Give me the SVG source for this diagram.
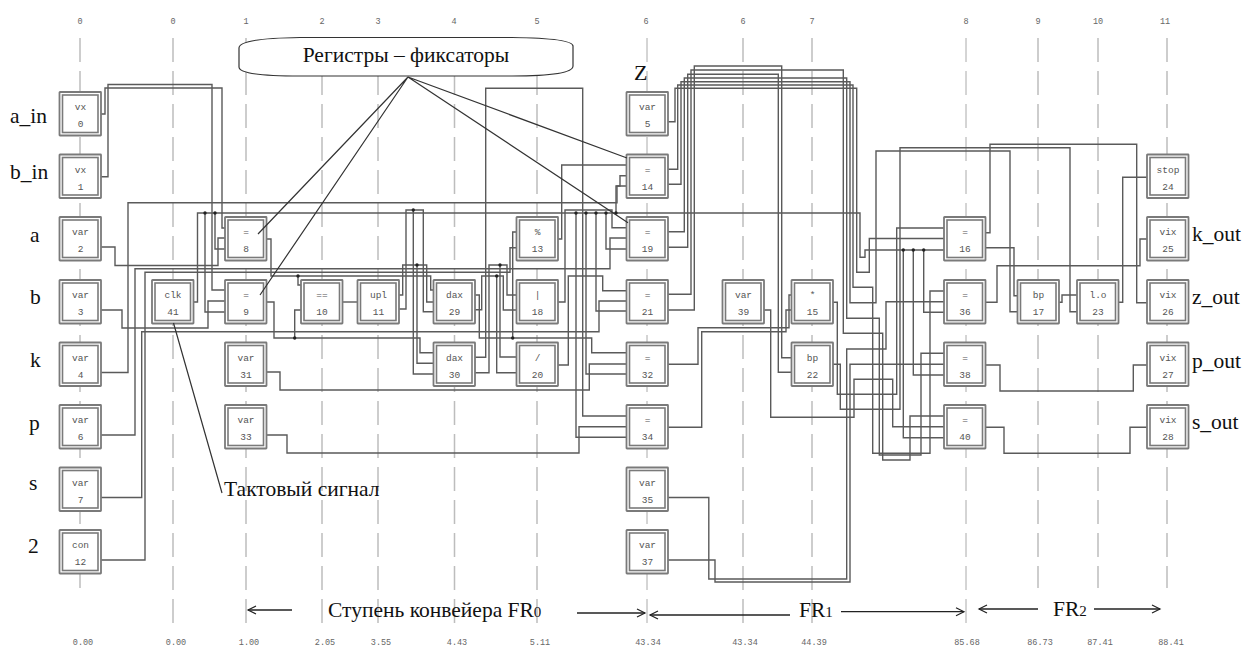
<svg xmlns="http://www.w3.org/2000/svg" xmlns:xlink="http://www.w3.org/1999/xlink" width="1244" height="646" viewBox="0 0 1244 646">
<style>
.g{stroke:#bdbdbd;stroke-width:1.5;stroke-dasharray:24 9;fill:none}
.c path{fill:none;stroke:#5a5a5a;stroke-width:1.4}
.d circle{fill:#222}
.o{fill:#fff;stroke:#7a7a7a;stroke-width:1.8}
.i{fill:#fff;stroke:#7a7a7a;stroke-width:1.6}
.n text{font-family:"Liberation Mono","DejaVu Sans Mono",monospace;font-size:9.5px;fill:#555;text-anchor:middle}
.t{font-family:"Liberation Mono","DejaVu Sans Mono",monospace;font-size:8.5px;fill:#666;text-anchor:middle}
.l{font-family:"Liberation Serif","DejaVu Serif",serif;font-size:21.5px;fill:#111}
.s{font-size:15px}
.x{stroke:#333;stroke-width:1.2;fill:none}
.a{stroke:#222;stroke-width:1.3;fill:none;marker-end:url(#ah)}
</style>
<defs>
<marker id="ah" markerWidth="12" markerHeight="10" refX="9" refY="5" orient="auto" markerUnits="userSpaceOnUse"><path d="M1 1L9 5L1 9" fill="none" stroke="#222" stroke-width="1.2"/></marker>
<g id="box"><rect class="o" x="0" y="0" width="41.5" height="43.5" rx="0.5"/><rect class="i" x="3" y="3" width="35.5" height="37.5"/></g>
</defs>
<rect width="1244" height="646" fill="#fff"/>
<g id="guides">
<path class="g" d="M80 38V588M173 38V632M246 38V632M322 38V632M378 38V632M454.500 38V632M537 38V632M743 38V632M812 38V632"/>
<path class="g" style="stroke:#aaa;stroke-width:1" d="M647 38V632M966 38V632"/>
<path class="g" d="M1038 38V588M1098 38V588M1167 38V588"/>
</g>
<g id="axis-top" class="axis">
<text class="t" x="80" y="24">0</text><text class="t" x="173" y="24">0</text><text class="t" x="246" y="24">1</text><text class="t" x="322" y="24">2</text><text class="t" x="378" y="24">3</text><text class="t" x="454" y="24">4</text><text class="t" x="537" y="24">5</text><text class="t" x="646" y="24">6</text><text class="t" x="743" y="24">6</text><text class="t" x="812" y="24">7</text><text class="t" x="966" y="24">8</text><text class="t" x="1038" y="24">9</text><text class="t" x="1098" y="24">10</text><text class="t" x="1165" y="24">11</text>
</g>
<g id="axis-bottom" class="axis">
<text class="t" x="83" y="645">0.00</text><text class="t" x="176" y="645">0.00</text><text class="t" x="249" y="645">1.00</text><text class="t" x="325" y="645">2.05</text><text class="t" x="381" y="645">3.55</text><text class="t" x="457" y="645">4.43</text><text class="t" x="540" y="645">5.11</text><text class="t" x="648" y="645">43.34</text><text class="t" x="745" y="645">43.34</text><text class="t" x="814" y="645">44.39</text><text class="t" x="967" y="645">85.68</text><text class="t" x="1040" y="645">86.73</text><text class="t" x="1100" y="645">87.41</text><text class="t" x="1171" y="645">88.41</text>
</g>
<g id="connectors" class="c">
<path d="M101 114H105V88H222V228H225"/>
<path d="M101 176.700H108V84.500H212V290H225"/>
<path d="M101 247H115V265.500H218V238H225"/>
<path d="M101 310H122V328H208V301H225"/>
<path d="M101 372.500H128V202.700H617V186H620V175.700H627"/>
<path d="M101 435H135V268.700H610V238H627"/>
<path d="M101 497.500H141.700V331.700H599V301H627"/>
<path d="M101 560H145V272.300H510V247.700H517"/>
<path d="M194 302H197.500V213H860V257.300H865V250H944"/>
<path d="M205 213V312H225M215 213V249H225"/>
<path d="M576 213V437.300H627M586 213V374H627M596 213V311H627M606 213V249H627M616 213V186H627"/>
<path d="M903.300 250V437.700H944M913.300 250V375H944M923.700 250V312.300H944"/>
<path d="M267 239H271V276H430.700V290H433M298 276V285H301"/>
<path d="M267 302H274V338H420V352.700H433M294.700 338V310H301"/>
<path d="M343 302H358"/>
<path d="M399 295H402.700V265H426.700V302H433"/>
<path d="M399 309H406V210H423.300V311.700H433M413.300 210V374H433M417 265V363.300H433"/>
<path d="M475 295H479.300V338H591.700V352.700H627M512.700 338V232H517"/>
<path d="M475 309.700H481.700V276H503.300V310H517M496.700 276V372.700H517"/>
<path d="M475 357.300H485.700V88.300H582.700V416H627"/>
<path d="M475 372.700H489V265H507V295H517M500 265V357H517"/>
<path d="M558 239H561.700V165H627"/>
<path d="M558 302H565V210H612V227.700H627"/>
<path d="M558 365H568.300V276H602.700V290.700H627"/>
<path d="M267 372H280V390H589.300V364H627"/>
<path d="M267 435H287V453H579V426.700H627"/>
<path d="M668 121.700H675V88.300H856.700V272.300H869.300V238.500H944"/>
<path d="M668 169.300H677.700V85H853V287.300H872.700V453.300H930V291H944"/>
<path d="M668 184.300H681V81.700H850V302.700H876V151H1010V311.700H1017"/>
<path d="M668 231.700H684.300V78H846.700V318.300H879.300V455H921V353.300H944"/>
<path d="M668 247.300H687.700V74.300H778.300V372.300H792"/>
<path d="M668 294.300H691V70H843.300V333.300H882.700V460H910V416H944"/>
<path d="M668 310H694.300V66H781.700V357.700H792"/>
<path d="M668 364.300H698V327.700H789V295H792"/>
<path d="M668 427.300H701.700V331.700H786V310H792"/>
<path d="M668 497.500H708.800V579H846.700V349H886V301.700H944"/>
<path d="M668 560H715V582H850V364.300H944"/>
<path d="M764 310H770.700V417.300H854V379.300H892.700V426.700H944"/>
<path d="M833 302.300H837.300V394.300H896.700V228H944"/>
<path d="M833 364.300H840.300V409.300H900V147.700H1070V311.700H1077"/>
<path d="M986 232.700H990V144.300H1136.700V302.700H1147"/>
<path d="M986 247.700H1014V295.700H1017"/>
<path d="M986 302.300H997V265.700H1140V239H1147"/>
<path d="M986 365H1000V391H1133.300V365H1147"/>
<path d="M986 427.300H1004V453.300H1130V427.300H1147"/>
<path d="M1059 302.300H1062V295H1077"/>
<path d="M1119 302.300H1122.700V177.300H1147"/>
</g>
<g id="junctions" class="d">
<circle cx="205" cy="213" r="1.700"/><circle cx="215" cy="213" r="1.700"/><circle cx="298" cy="276" r="1.700"/><circle cx="294.700" cy="338" r="1.700"/><circle cx="413.300" cy="210" r="1.700"/><circle cx="417" cy="265" r="1.700"/><circle cx="500" cy="265" r="1.700"/><circle cx="496.700" cy="276" r="1.700"/><circle cx="512.700" cy="338" r="1.700"/><circle cx="576" cy="213" r="1.700"/><circle cx="586" cy="213" r="1.700"/><circle cx="596" cy="213" r="1.700"/><circle cx="606" cy="213" r="1.700"/><circle cx="616" cy="213" r="1.700"/><circle cx="903.300" cy="250" r="1.700"/><circle cx="913.300" cy="250" r="1.700"/><circle cx="923.700" cy="250" r="1.700"/>
</g>
<g id="nodes" class="n">
<g id="n0" transform="translate(59.500 92)"><use href="#box"/><text x="21" y="18">vx</text><text x="21" y="35">0</text></g>
<g id="n1" transform="translate(59.500 154.500)"><use href="#box"/><text x="21" y="18">vx</text><text x="21" y="35">1</text></g>
<g id="n2" transform="translate(59.500 217)"><use href="#box"/><text x="21" y="18">var</text><text x="21" y="35">2</text></g>
<g id="n3" transform="translate(59.500 280)"><use href="#box"/><text x="21" y="18">var</text><text x="21" y="35">3</text></g>
<g id="n4" transform="translate(59.500 342.500)"><use href="#box"/><text x="21" y="18">var</text><text x="21" y="35">4</text></g>
<g id="n6" transform="translate(59.500 405)"><use href="#box"/><text x="21" y="18">var</text><text x="21" y="35">6</text></g>
<g id="n7" transform="translate(59.500 467.500)"><use href="#box"/><text x="21" y="18">var</text><text x="21" y="35">7</text></g>
<g id="n12" transform="translate(59.500 530)"><use href="#box"/><text x="21" y="18">con</text><text x="21" y="35">12</text></g>
<g id="n41" transform="translate(152 280)"><use href="#box"/><text x="21" y="18">clk</text><text x="21" y="35">41</text></g>
<g id="n8" transform="translate(225 217)"><use href="#box"/><text x="21" y="18">=</text><text x="21" y="35">8</text></g>
<g id="n9" transform="translate(225 280)"><use href="#box"/><text x="21" y="18">=</text><text x="21" y="35">9</text></g>
<g id="n31" transform="translate(225 342.500)"><use href="#box"/><text x="21" y="18">var</text><text x="21" y="35">31</text></g>
<g id="n33" transform="translate(225 405)"><use href="#box"/><text x="21" y="18">var</text><text x="21" y="35">33</text></g>
<g id="n10" transform="translate(301 280)"><use href="#box"/><text x="21" y="18">==</text><text x="21" y="35">10</text></g>
<g id="n11" transform="translate(357.500 280)"><use href="#box"/><text x="21" y="18">upl</text><text x="21" y="35">11</text></g>
<g id="n29" transform="translate(433.500 280)"><use href="#box"/><text x="21" y="18">dax</text><text x="21" y="35">29</text></g>
<g id="n30" transform="translate(433.500 342.500)"><use href="#box"/><text x="21" y="18">dax</text><text x="21" y="35">30</text></g>
<g id="n13" transform="translate(516.500 217)"><use href="#box"/><text x="21" y="18">%</text><text x="21" y="35">13</text></g>
<g id="n18" transform="translate(516.500 280)"><use href="#box"/><text x="21" y="18">|</text><text x="21" y="35">18</text></g>
<g id="n20" transform="translate(516.500 342.500)"><use href="#box"/><text x="21" y="18">/</text><text x="21" y="35">20</text></g>
<g id="n5" transform="translate(626.500 92)"><use href="#box"/><text x="21" y="18">var</text><text x="21" y="35">5</text></g>
<g id="n14" transform="translate(626.500 154.500)"><use href="#box"/><text x="21" y="18">=</text><text x="21" y="35">14</text></g>
<g id="n19" transform="translate(626.500 217)"><use href="#box"/><text x="21" y="18">=</text><text x="21" y="35">19</text></g>
<g id="n21" transform="translate(626.500 280)"><use href="#box"/><text x="21" y="18">=</text><text x="21" y="35">21</text></g>
<g id="n32" transform="translate(626.500 342.500)"><use href="#box"/><text x="21" y="18">=</text><text x="21" y="35">32</text></g>
<g id="n34" transform="translate(626.500 405)"><use href="#box"/><text x="21" y="18">=</text><text x="21" y="35">34</text></g>
<g id="n35" transform="translate(626.500 467.500)"><use href="#box"/><text x="21" y="18">var</text><text x="21" y="35">35</text></g>
<g id="n37" transform="translate(626.500 530)"><use href="#box"/><text x="21" y="18">var</text><text x="21" y="35">37</text></g>
<g id="n39" transform="translate(722.500 280)"><use href="#box"/><text x="21" y="18">var</text><text x="21" y="35">39</text></g>
<g id="n15" transform="translate(791.500 280)"><use href="#box"/><text x="21" y="18">*</text><text x="21" y="35">15</text></g>
<g id="n22" transform="translate(791.500 342.500)"><use href="#box"/><text x="21" y="18">bp</text><text x="21" y="35">22</text></g>
<g id="n16" transform="translate(944 217)"><use href="#box"/><text x="21" y="18">=</text><text x="21" y="35">16</text></g>
<g id="n36" transform="translate(944 280)"><use href="#box"/><text x="21" y="18">=</text><text x="21" y="35">36</text></g>
<g id="n38" transform="translate(944 342.500)"><use href="#box"/><text x="21" y="18">=</text><text x="21" y="35">38</text></g>
<g id="n40" transform="translate(944 405)"><use href="#box"/><text x="21" y="18">=</text><text x="21" y="35">40</text></g>
<g id="n17" transform="translate(1017.500 280)"><use href="#box"/><text x="21" y="18">bp</text><text x="21" y="35">17</text></g>
<g id="n23" transform="translate(1077 280)"><use href="#box"/><text x="21" y="18">l.o</text><text x="21" y="35">23</text></g>
<g id="n24" transform="translate(1147 154.500)"><use href="#box"/><text x="21" y="18">stop</text><text x="21" y="35">24</text></g>
<g id="n25" transform="translate(1147 217)"><use href="#box"/><text x="21" y="18">vix</text><text x="21" y="35">25</text></g>
<g id="n26" transform="translate(1147 280)"><use href="#box"/><text x="21" y="18">vix</text><text x="21" y="35">26</text></g>
<g id="n27" transform="translate(1147 342.500)"><use href="#box"/><text x="21" y="18">vix</text><text x="21" y="35">27</text></g>
<g id="n28" transform="translate(1147 405)"><use href="#box"/><text x="21" y="18">vix</text><text x="21" y="35">28</text></g>
</g>
<g id="callout">
<path d="M239 48C239 41 262 38 300 37.500H512C552 38 573 41 573 46V66C573 73 552 76 512 76H300C262 76 239 73 239 67Z" fill="#fff" stroke="#333" stroke-width="1.2"/>
<text class="l" x="406" y="62" text-anchor="middle">Регистры – фиксаторы</text>
<path class="x" d="M258 234L408 77L260 295M627 158L408 77L628 222.700M173.500 323L222 493"/>
</g>
<g id="labels">
<text class="l" x="10" y="123">a_in</text>
<text class="l" x="10" y="179">b_in</text>
<text class="l" x="30" y="242">a</text>
<text class="l" x="30" y="304">b</text>
<text class="l" x="30" y="367">k</text>
<text class="l" x="29" y="430">p</text>
<text class="l" x="29" y="490">s</text>
<text class="l" x="28" y="553">2</text>
<text class="l" x="634" y="80" style="font-size:22px">Z</text>
<text class="l" x="1192" y="241">k_out</text>
<text class="l" x="1192" y="304">z_out</text>
<text class="l" x="1192" y="368">p_out</text>
<text class="l" x="1192" y="429">s_out</text>
<text class="l" x="224" y="496">Тактовый сигнал</text>
<text class="l" x="328" y="617">Ступень конвейера FR<tspan class="s">0</tspan></text>
<text class="l" x="799" y="617">FR<tspan class="s">1</tspan></text>
<text class="l" x="1053" y="616">FR<tspan class="s">2</tspan></text>
</g>
<g id="arrows">
<path class="a" d="M292 610H248"/>
<path class="a" d="M577 613H645"/>
<path class="a" d="M790 615H650"/>
<path class="a" d="M841 611.700H964"/>
<path class="a" d="M1038 609H979"/>
<path class="a" d="M1094 609H1160"/>
</g>
</svg>
